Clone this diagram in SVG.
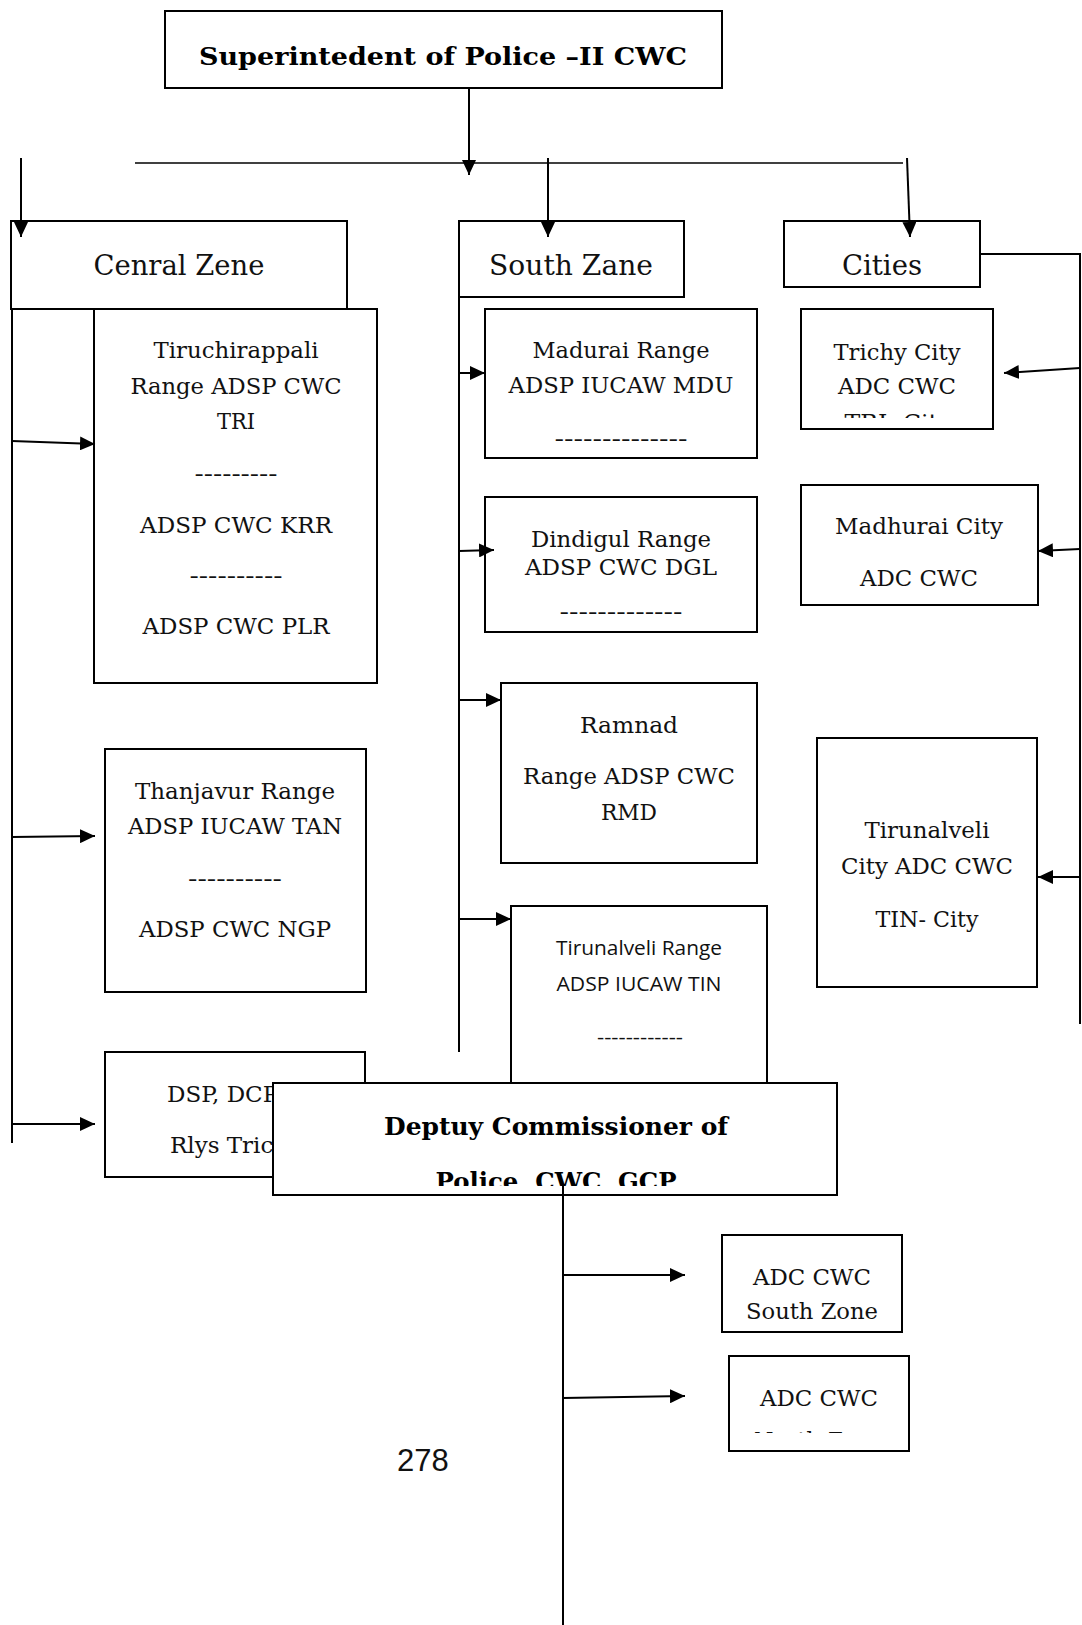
<svg xmlns="http://www.w3.org/2000/svg" width="1082" height="1625" viewBox="0 0 1082 1625">
<style>
.box{fill:#fff;stroke:#000;stroke-width:2}
.t{font-family:"DejaVu Serif","Liberation Serif",serif;font-size:23px;fill:#111;text-anchor:middle}
.z{font-family:"DejaVu Serif","Liberation Serif",serif;font-size:27px;fill:#111;text-anchor:middle}
.b{font-family:"DejaVu Serif","Liberation Serif",serif;font-size:25px;font-weight:bold;fill:#000;text-anchor:middle}
.s{font-family:"Open Sans","Liberation Sans",sans-serif;font-size:20px;fill:#111;text-anchor:middle}
.c line,.c polyline{stroke:#000;stroke-width:2;fill:none}
</style>
<defs>
<marker id="ah" viewBox="0 0 15 14" refX="15" refY="7" markerWidth="15" markerHeight="14" markerUnits="userSpaceOnUse" orient="auto">
<path d="M0,0 L15,7 L0,14 z" fill="#000"/>
</marker>
<clipPath id="cTri"><rect x="801" y="309" width="192" height="109"/></clipPath>
<clipPath id="cDcp"><rect x="273" y="1083" width="564" height="103"/></clipPath>
<clipPath id="cNorth"><rect x="729" y="1356" width="180" height="77"/></clipPath>
</defs>
<rect width="1082" height="1625" fill="#fff"/>

<g id="sp">
<rect class="box" x="165" y="11" width="557" height="77"/>
<text class="b" x="443" y="65" textLength="488" lengthAdjust="spacingAndGlyphs">Superintedent of Police –II CWC</text>
</g>

<g id="central">
<rect class="box" x="11" y="221" width="336" height="88"/>
<text class="z" x="179" y="275" textLength="171" lengthAdjust="spacingAndGlyphs">Cenral Zene</text>
</g>
<g id="south">
<rect class="box" x="459" y="221" width="225" height="76"/>
<text class="z" x="571" y="275" textLength="164" lengthAdjust="spacingAndGlyphs">South Zane</text>
</g>
<g id="cities">
<rect class="box" x="784" y="221" width="196" height="66"/>
<text class="z" x="882" y="275" textLength="80" lengthAdjust="spacingAndGlyphs">Cities</text>
</g>

<g id="trichy-range">
<rect class="box" x="94" y="309" width="283" height="374"/>
<text class="t" x="236" y="358" textLength="165" lengthAdjust="spacingAndGlyphs">Tiruchirappali</text>
<text class="t" x="236" y="394" textLength="211" lengthAdjust="spacingAndGlyphs">Range ADSP CWC</text>
<text class="t" x="236" y="429" textLength="38" lengthAdjust="spacingAndGlyphs">TRI</text>
<text class="t" x="236" y="481" textLength="83" lengthAdjust="spacingAndGlyphs">---------</text>
<text class="t" x="236" y="533" textLength="192" lengthAdjust="spacingAndGlyphs">ADSP CWC KRR</text>
<text class="t" x="236" y="583" textLength="93" lengthAdjust="spacingAndGlyphs">----------</text>
<text class="t" x="236" y="634" textLength="187" lengthAdjust="spacingAndGlyphs">ADSP CWC PLR</text>
</g>

<g id="thanjavur">
<rect class="box" x="105" y="749" width="261" height="243"/>
<text class="t" x="235" y="799" textLength="200" lengthAdjust="spacingAndGlyphs">Thanjavur Range</text>
<text class="t" x="235" y="834" textLength="214" lengthAdjust="spacingAndGlyphs">ADSP IUCAW TAN</text>
<text class="t" x="235" y="886" textLength="94" lengthAdjust="spacingAndGlyphs">----------</text>
<text class="t" x="235" y="937" textLength="192" lengthAdjust="spacingAndGlyphs">ADSP CWC NGP</text>
</g>

<g id="dsp">
<rect class="box" x="105" y="1052" width="260" height="125"/>
<text class="t" x="167" y="1102" style="text-anchor:start">DSP, DCP</text>
<text class="t" x="170" y="1153" style="text-anchor:start">Rlys Trichy</text>
</g>

<g id="madurai-range">
<rect class="box" x="485" y="309" width="272" height="149"/>
<text class="t" x="621" y="358" textLength="177" lengthAdjust="spacingAndGlyphs">Madurai Range</text>
<text class="t" x="621" y="393" textLength="225" lengthAdjust="spacingAndGlyphs">ADSP IUCAW MDU</text>
<text class="t" x="621" y="446" textLength="133" lengthAdjust="spacingAndGlyphs">--------------</text>
</g>

<g id="dindigul">
<rect class="box" x="485" y="497" width="272" height="135"/>
<text class="t" x="621" y="547" textLength="180" lengthAdjust="spacingAndGlyphs">Dindigul Range</text>
<text class="t" x="621" y="575" textLength="192" lengthAdjust="spacingAndGlyphs">ADSP CWC DGL</text>
<text class="t" x="621" y="619" textLength="123" lengthAdjust="spacingAndGlyphs">-------------</text>
</g>

<g id="ramnad">
<rect class="box" x="501" y="683" width="256" height="180"/>
<text class="t" x="629" y="733" textLength="98" lengthAdjust="spacingAndGlyphs">Ramnad</text>
<text class="t" x="629" y="784" textLength="212" lengthAdjust="spacingAndGlyphs">Range ADSP CWC</text>
<text class="t" x="629" y="820" textLength="56" lengthAdjust="spacingAndGlyphs">RMD</text>
</g>

<g id="tirunalveli-range">
<rect class="box" x="511" y="906" width="256" height="200"/>
<text class="s" x="639" y="955" textLength="166" lengthAdjust="spacingAndGlyphs">Tirunalveli Range</text>
<text class="s" x="639" y="991" textLength="165" lengthAdjust="spacingAndGlyphs">ADSP IUCAW TIN</text>
<text class="s" x="640" y="1044" textLength="86" lengthAdjust="spacingAndGlyphs">------------</text>
</g>

<g id="trichy-city">
<rect class="box" x="801" y="309" width="192" height="120"/>
<text class="t" x="897" y="360" textLength="127" lengthAdjust="spacingAndGlyphs">Trichy City</text>
<text class="t" x="897" y="394" textLength="118" lengthAdjust="spacingAndGlyphs">ADC CWC</text>
<text class="t" x="898" y="430" textLength="107" lengthAdjust="spacingAndGlyphs" clip-path="url(#cTri)">TRI- City</text>
</g>

<g id="madhurai-city">
<rect class="box" x="801" y="485" width="237" height="120"/>
<text class="t" x="919" y="534" textLength="168" lengthAdjust="spacingAndGlyphs">Madhurai City</text>
<text class="t" x="919" y="586" textLength="118" lengthAdjust="spacingAndGlyphs">ADC CWC</text>
</g>

<g id="tirunalveli-city">
<rect class="box" x="817" y="738" width="220" height="249"/>
<text class="t" x="927" y="838" textLength="125" lengthAdjust="spacingAndGlyphs">Tirunalveli</text>
<text class="t" x="927" y="874" textLength="172" lengthAdjust="spacingAndGlyphs">City ADC CWC</text>
<text class="t" x="927" y="927" textLength="103" lengthAdjust="spacingAndGlyphs">TIN- City</text>
</g>

<g id="dcp">
<rect class="box" x="273" y="1083" width="564" height="112"/>
<text class="b" x="556" y="1135" textLength="344" lengthAdjust="spacingAndGlyphs">Deptuy Commissioner of</text>
<text class="b" x="556" y="1190" textLength="241" lengthAdjust="spacingAndGlyphs" clip-path="url(#cDcp)">Police, CWC, GCP</text>
</g>

<g id="adc-south">
<rect class="box" x="722" y="1235" width="180" height="97"/>
<text class="t" x="812" y="1285" textLength="118" lengthAdjust="spacingAndGlyphs">ADC CWC</text>
<text class="t" x="812" y="1319" textLength="132" lengthAdjust="spacingAndGlyphs">South Zone</text>
</g>

<g id="adc-north">
<rect class="box" x="729" y="1356" width="180" height="95"/>
<text class="t" x="819" y="1406" textLength="118" lengthAdjust="spacingAndGlyphs">ADC CWC</text>
<text class="t" x="819" y="1448" textLength="130" lengthAdjust="spacingAndGlyphs" clip-path="url(#cNorth)">North Zone</text>
</g>

<text x="397" y="1471" font-family="'Liberation Sans',Arial,sans-serif" font-size="31" fill="#111">278</text>

<g id="connectors" class="c">
<line x1="469" y1="88" x2="469" y2="175" marker-end="url(#ah)"/>
<line x1="135" y1="163" x2="903" y2="163" style="stroke-width:1.5"/>
<line x1="21" y1="158" x2="21" y2="237" marker-end="url(#ah)"/>
<line x1="548" y1="158" x2="548" y2="237" marker-end="url(#ah)"/>
<line x1="907" y1="158" x2="910" y2="237" marker-end="url(#ah)"/>
<polyline points="980,254 1080,254 1080,1024"/>
<line x1="1080" y1="368" x2="1004" y2="373" marker-end="url(#ah)"/>
<line x1="1080" y1="549" x2="1038" y2="551" marker-end="url(#ah)"/>
<line x1="1080" y1="877" x2="1038" y2="877" marker-end="url(#ah)"/>
<line x1="12" y1="309" x2="12" y2="1143"/>
<line x1="12" y1="441" x2="95" y2="444" marker-end="url(#ah)"/>
<line x1="12" y1="837" x2="95" y2="836" marker-end="url(#ah)"/>
<line x1="12" y1="1124" x2="95" y2="1124" marker-end="url(#ah)"/>
<line x1="459" y1="297" x2="459" y2="1052"/>
<line x1="459" y1="373" x2="485" y2="373" marker-end="url(#ah)"/>
<line x1="459" y1="551" x2="494" y2="550" marker-end="url(#ah)"/>
<line x1="459" y1="700" x2="501" y2="700" marker-end="url(#ah)"/>
<line x1="459" y1="919" x2="511" y2="919" marker-end="url(#ah)"/>
<line x1="563" y1="1184" x2="563" y2="1625"/>
<line x1="563" y1="1275" x2="685" y2="1275" marker-end="url(#ah)"/>
<line x1="563" y1="1398" x2="685" y2="1396" marker-end="url(#ah)"/>
</g>
</svg>
